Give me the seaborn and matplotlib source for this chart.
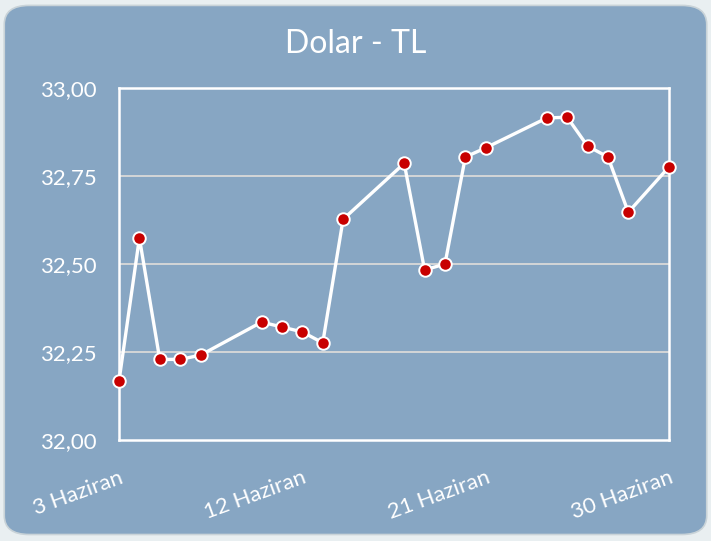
import pandas as pd
import matplotlib.pyplot as plt
from matplotlib.patches import FancyBboxPatch
import seaborn as sns

# Veriler
gunler = [3, 4, 5, 6, 7, 10, 11, 12, 13, 14, 17, 18, 19, 20, 21, 24, 25, 26, 27, 28, 30]
kur = [32.168, 32.574, 32.229, 32.229, 32.241, 32.335, 32.321, 32.307, 32.276, 32.627,
       32.786, 32.483, 32.500, 32.804, 32.830, 32.915, 32.917, 32.835, 32.804, 32.647, 32.776]
etiket_gunleri = [3, 12, 21, 30]
etiketler = ['3 Haziran', '12 Haziran', '21 Haziran', '30 Haziran']
y_ticks = [32.00, 32.25, 32.50, 32.75, 33.00]

df = pd.DataFrame({'tarih': pd.to_datetime([f'2024-06-{g:02d}' for g in gunler]), 'kur': kur})

sns.set_theme(style="white")
plt.rcParams['font.family'] = ['Lato', 'DejaVu Sans']

panel = '#87a6c3'
fig = plt.figure(figsize=(7.11, 5.41), dpi=100)
fig.patch.set_facecolor('#e9eff1')
fig.patches.append(FancyBboxPatch((0.006, 0.012), 0.988, 0.978, boxstyle='round,pad=0,rounding_size=0.035',
                                  transform=fig.transFigure, facecolor=panel, edgecolor='#c9d3d8',
                                  linewidth=1.2, zorder=-10))

ax = fig.add_axes([0.1674, 0.1867, 0.7736, 0.6506])
ax.set_zorder(1)
ax.set_facecolor(panel)

sns.lineplot(data=df, x='tarih', y='kur', ax=ax, color='white', linewidth=2.4, zorder=3,
             marker='o', markersize=9, markerfacecolor='#c80000', markeredgecolor='white',
             markeredgewidth=1.4, clip_on=False)

ax.set_xlim(pd.Timestamp('2024-06-03'), pd.Timestamp('2024-06-30'))
ax.set_ylim(32.0, 33.0)
ax.set_yticks(y_ticks)
ax.set_yticklabels([f'{v:.2f}'.replace('.', ',') for v in y_ticks], color='white', fontsize=16)
ax.set_xticks([pd.Timestamp(f'2024-06-{g:02d}') for g in etiket_gunleri])
ax.set_xticklabels(etiketler, rotation=20, ha='right', rotation_mode='anchor', color='white', fontsize=16)
ax.tick_params(axis='y', length=0, pad=16)
ax.tick_params(axis='x', length=0, pad=20)
ax.set_xlabel('')
ax.set_ylabel('')

for v in y_ticks[1:-1]:
    ax.axhline(v, color='#d9d9d9', linewidth=1.3, zorder=1)
for s in ax.spines.values():
    s.set_color('white')
    s.set_linewidth(1.8)

fig.text(0.5, 0.918, 'Dolar - TL', ha='center', va='center', color='white', fontsize=23)

plt.savefig('out.png', dpi=100, facecolor=fig.get_facecolor())
plt.close()
